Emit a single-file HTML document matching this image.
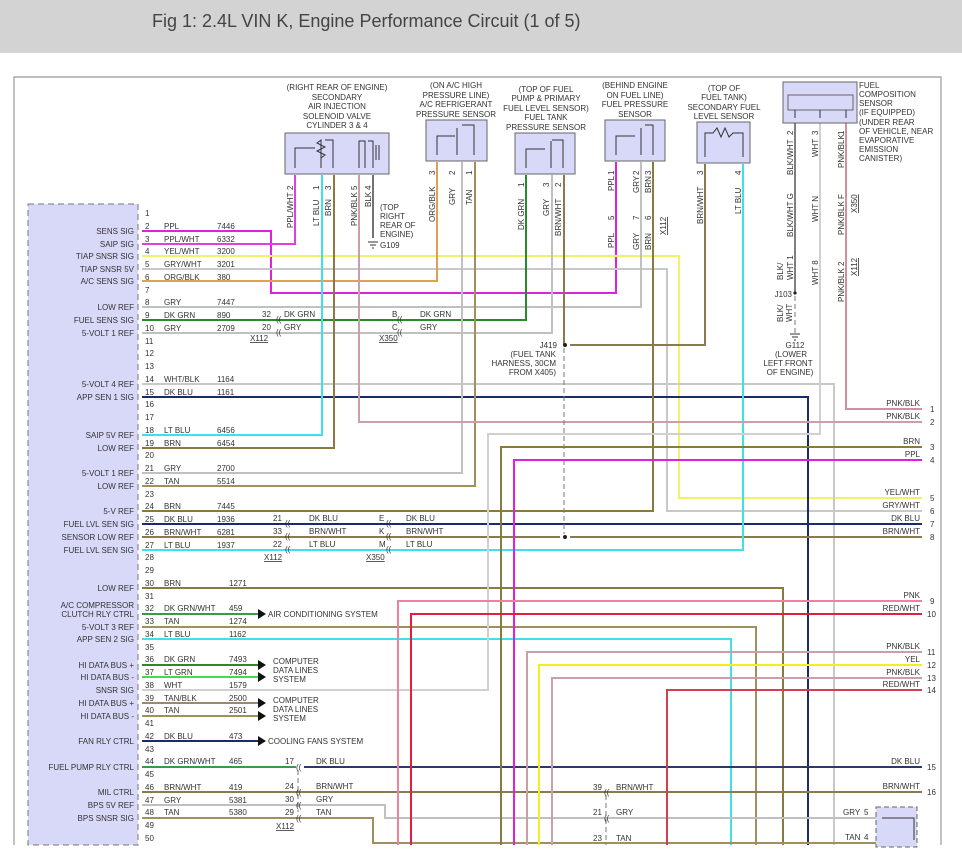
<!DOCTYPE html>
<html><head><meta charset="utf-8">
<style>
html,body{margin:0;padding:0;background:#fff;}
body{width:962px;height:860px;overflow:hidden;position:relative;}
#hdr{position:absolute;left:0;top:0;width:962px;height:53px;background:#d3d3d3;}
#hdr span{position:absolute;left:152px;top:11px;font:18px "Liberation Sans",sans-serif;color:#444;}
svg{position:absolute;left:0;top:0;}
text{font-family:"Liberation Sans",sans-serif;font-size:8px;fill:#333;}
</style></head><body>
<div id="hdr"><span>Fig 1: 2.4L VIN K, Engine Performance Circuit (1 of 5)</span></div>
<svg width="962" height="860" viewBox="0 0 962 860">
<path d="M14,845 V77 H941 V845" fill="none" stroke="#999" stroke-width="1.2"/>
<rect x="28" y="204" width="110" height="641" fill="#d8d8f8" stroke="#777" stroke-dasharray="6,4"/>
<g fill="none" stroke-width="2">
<path d="M142,231 H271 V293 H616 V162" stroke="#e020e0"/>
<path d="M142,244 H295 V175" stroke="#e040e0"/>
<path d="M142,256 H679 V498 H922" stroke="#f2f26a"/>
<path d="M142,269 H667 V511 H922" stroke="#c8c8c8"/>
<path d="M142,281 H437 V162" stroke="#e0a050"/>
<path d="M142,307 H641 V162" stroke="#c0c0c0"/>
<path d="M142,320 H526 V175" stroke="#2a8a2a"/>
<path d="M142,333 H552 V175" stroke="#c0c0c0"/>
<path d="M142,384 H834 V845" stroke="#c8c8c8"/>
<path d="M142,397 H808 V845" stroke="#1a2a6a"/>
<path d="M142,435 H322 V175" stroke="#40e0e8"/>
<path d="M142,448 H334 V175" stroke="#8a7a40"/>
<path d="M142,473 H462 V162" stroke="#c0c0c0"/>
<path d="M142,486 H475 V162" stroke="#a09060"/>
<path d="M142,511 H653 V162" stroke="#8a7a40"/>
<path d="M142,524 H922" stroke="#1a2a6a"/>
<path d="M142,537 H560 M570,537 H922" stroke="#8a7a50"/>
<path d="M142,550 H743 V164" stroke="#40e0e8"/>
<path d="M142,588 H783 V845" stroke="#8a7a40"/>
<path d="M142,614 H258" stroke="#3a9a4a"/>
<path d="M142,627 H756 V845" stroke="#a09060"/>
<path d="M142,639 H731 V845" stroke="#40e0e8"/>
<path d="M142,665 H258" stroke="#2a8a2a"/>
<path d="M142,677 H258" stroke="#40e040"/>
<path d="M142,690 H488 V434 H820 V123" stroke="#d0d0d0"/>
<path d="M142,703 H258" stroke="#9a8a6a"/>
<path d="M142,716 H258" stroke="#a09060"/>
<path d="M142,741 H258" stroke="#1a2a6a"/>
<path d="M142,767 H296" stroke="#3a9a4a"/>
<path d="M304,767 H922" stroke="#2a3a6a"/>
<path d="M142,792 H922" stroke="#8a7a50"/>
<path d="M142,805 H385 V818 H878" stroke="#c0c0c0"/>
<path d="M142,818 H373 V843 H878" stroke="#a09060"/>
<path d="M359,175 V422 H922" stroke="#c8a0a8"/>
<path d="M373,175 V238" stroke="#444" stroke-width="1.5"/>
<path d="M564,175 V345" stroke="#8a7a50"/>
<path d="M570,345 H705 V164" stroke="#8a7a50"/>
<path d="M795,123 V293" stroke="#555" stroke-width="1.5"/>
<path d="M846,123 V409 H922" stroke="#d090a0"/>
<path d="M922,447 H501 V845" stroke="#8a7a40"/>
<path d="M922,460 H514 V845" stroke="#e020e0"/>
<path d="M922,601 H398 V845" stroke="#f080a0"/>
<path d="M922,614 H411 V845" stroke="#e02040"/>
<path d="M922,652 H527 V845" stroke="#c8a0a8"/>
<path d="M922,665 H539 V845" stroke="#f0f020"/>
<path d="M922,678 H552 V845" stroke="#c8a0a8"/>
<path d="M922,690 H667 V845" stroke="#d04050"/>
</g>
<g fill="none" stroke="#777" stroke-width="1" stroke-dasharray="5,3">
<path d="M564,348 V534"/><path d="M795,296 V333"/><path d="M298,770 V812"/><path d="M606,795 V845"/>
</g>
<circle cx="565" cy="345" r="2" fill="#222"/><circle cx="565" cy="537" r="2" fill="#222"/><circle cx="795" cy="293" r="1.6" fill="#222"/>
<g fill="#111">
<path d="M258,609 l8,5 l-8,5z"/><path d="M258,660 l8,5 l-8,5z"/><path d="M258,672 l8,5 l-8,5z"/>
<path d="M258,698 l8,5 l-8,5z"/><path d="M258,711 l8,5 l-8,5z"/><path d="M258,736 l8,5 l-8,5z"/>
</g>
<text x="268" y="617">AIR CONDITIONING SYSTEM</text>
<text x="273" y="664">COMPUTER</text><text x="273" y="673">DATA LINES</text><text x="273" y="682">SYSTEM</text>
<text x="273" y="703">COMPUTER</text><text x="273" y="712">DATA LINES</text><text x="273" y="721">SYSTEM</text>
<text x="268" y="744">COOLING FANS SYSTEM</text>
<g fill="#d8d8f8" stroke="#666" stroke-width="1">
<rect x="285" y="133" width="104" height="41"/>
<rect x="426" y="120" width="61" height="41"/>
<rect x="515" y="133" width="60" height="41"/>
<rect x="605" y="120" width="60" height="41"/>
<rect x="697" y="122" width="53" height="41"/>
<rect x="783" y="82" width="74" height="41"/>
<rect x="788" y="95" width="65" height="15"/>
<rect x="876" y="807" width="41" height="40" stroke-dasharray="5,3"/>
</g>
<g fill="none" stroke="#333" stroke-width="1">
<path d="M295,168 V148 H315 M321,168 V140 L317,143 L325,147 L317,151 L325,155 L321,158 V168 M333,168 V140 H325"/>
<path d="M359,168 V141 H365 V168 M373,168 V141 H368 M376,145 V160 M379,145 V160"/>
<path d="M437,155 V136 H455 M457,155 V128 M474,155 V125 H462"/>
<path d="M526,168 V149 H545 M551,168 V141 M563,168 V140 H552"/>
<path d="M616,155 V136 H635 M641,155 V128 M653,155 V125 H645"/>
<path d="M705,157 V133 H713 L717,128 L721,137 L725,128 L729,137 L733,133 H743 V157"/>
<path d="M795,110 V118 M820,110 V118 M846,110 V118"/>
<path d="M882,818 H914 V840"/>
</g>
<g text-anchor="middle">
<text x="337" y="90">(RIGHT REAR OF ENGINE)</text><text x="337" y="100">SECONDARY</text><text x="337" y="109">AIR INJECTION</text><text x="337" y="119">SOLENOID VALVE</text><text x="337" y="128">CYLINDER 3 &amp; 4</text>
<text x="456" y="88">(ON A/C HIGH</text><text x="456" y="98">PRESSURE LINE)</text><text x="456" y="107">A/C REFRIGERANT</text><text x="456" y="117">PRESSURE SENSOR</text>
<text x="546" y="92">(TOP OF FUEL</text><text x="546" y="101">PUMP &amp; PRIMARY</text><text x="546" y="111">FUEL LEVEL SENSOR)</text><text x="546" y="120">FUEL TANK</text><text x="546" y="130">PRESSURE SENSOR</text>
<text x="635" y="88">(BEHIND ENGINE</text><text x="635" y="98">ON FUEL LINE)</text><text x="635" y="107">FUEL PRESSURE</text><text x="635" y="117">SENSOR</text>
<text x="724" y="91">(TOP OF</text><text x="724" y="100">FUEL TANK)</text><text x="724" y="110">SECONDARY FUEL</text><text x="724" y="119">LEVEL SENSOR</text>
</g>
<text x="859" y="88">FUEL</text><text x="859" y="97">COMPOSITION</text><text x="859" y="106">SENSOR</text><text x="859" y="115">(IF EQUIPPED)</text><text x="859" y="125">(UNDER REAR</text><text x="859" y="134">OF VEHICLE, NEAR</text><text x="859" y="143">EVAPORATIVE</text><text x="859" y="152">EMISSION</text><text x="859" y="161">CANISTER)</text>
<text x="380" y="210">(TOP</text><text x="380" y="219">RIGHT</text><text x="380" y="228">REAR OF</text><text x="380" y="237">ENGINE)</text><text x="380" y="248">G109</text>
<path d="M368,242 H378 M370,245 H376 M372,248 H374" stroke="#333"/>
<text x="795" y="348" text-anchor="middle">G112</text><text x="791" y="357" text-anchor="middle">(LOWER</text><text x="788" y="366" text-anchor="middle">LEFT FRONT</text><text x="790" y="375" text-anchor="middle">OF ENGINE)</text>
<path d="M790,334 H800 M792,337 H798 M794,340 H796" stroke="#333"/>
<text x="792" y="297" text-anchor="end">J103</text>
<text x="557" y="348" text-anchor="end">J419</text><text x="556" y="357" text-anchor="end">(FUEL TANK</text><text x="556" y="366" text-anchor="end">HARNESS, 30CM</text><text x="556" y="375" text-anchor="end">FROM X405)</text>
<g>
<text transform="translate(293,228) rotate(-90)">PPL/WHT</text><text transform="translate(293,190) rotate(-90)">2</text>
<text transform="translate(319,226) rotate(-90)">LT BLU</text><text transform="translate(319,190) rotate(-90)">1</text>
<text transform="translate(331,216) rotate(-90)">BRN</text><text transform="translate(331,190) rotate(-90)">3</text>
<text transform="translate(357,226) rotate(-90)">PNK/BLK</text><text transform="translate(357,190) rotate(-90)">5</text>
<text transform="translate(371,207) rotate(-90)">BLK</text><text transform="translate(371,190) rotate(-90)">4</text>
<text transform="translate(435,222) rotate(-90)">ORG/BLK</text><text transform="translate(435,175) rotate(-90)">3</text>
<text transform="translate(455,205) rotate(-90)">GRY</text><text transform="translate(455,175) rotate(-90)">2</text>
<text transform="translate(472,205) rotate(-90)">TAN</text><text transform="translate(472,175) rotate(-90)">1</text>
<text transform="translate(524,230) rotate(-90)">DK GRN</text><text transform="translate(524,187) rotate(-90)">1</text>
<text transform="translate(549,216) rotate(-90)">GRY</text><text transform="translate(549,187) rotate(-90)">3</text>
<text transform="translate(561,236) rotate(-90)">BRN/WHT</text><text transform="translate(561,187) rotate(-90)">2</text>
<text transform="translate(614,191) rotate(-90)">PPL</text><text transform="translate(614,175) rotate(-90)">1</text>
<text transform="translate(639,193) rotate(-90)">GRY</text><text transform="translate(639,175) rotate(-90)">2</text>
<text transform="translate(651,193) rotate(-90)">BRN</text><text transform="translate(651,175) rotate(-90)">3</text>
<text transform="translate(614,248) rotate(-90)">PPL</text><text transform="translate(614,220) rotate(-90)">5</text>
<text transform="translate(639,250) rotate(-90)">GRY</text><text transform="translate(639,220) rotate(-90)">7</text>
<text transform="translate(651,250) rotate(-90)">BRN</text><text transform="translate(651,220) rotate(-90)">6</text>
<text transform="translate(666,235) rotate(-90)" text-decoration="underline">X112</text>
<text transform="translate(703,224) rotate(-90)">BRN/WHT</text><text transform="translate(703,175) rotate(-90)">3</text>
<text transform="translate(741,214) rotate(-90)">LT BLU</text><text transform="translate(741,175) rotate(-90)">4</text>
<text transform="translate(793,175) rotate(-90)">BLK/WHT</text><text transform="translate(793,135) rotate(-90)">2</text>
<text transform="translate(818,157) rotate(-90)">WHT</text><text transform="translate(818,135) rotate(-90)">3</text>
<text transform="translate(844,168) rotate(-90)">PNK/BLK</text><text transform="translate(844,135) rotate(-90)">1</text>
<text transform="translate(793,237) rotate(-90)">BLK/WHT G</text>
<text transform="translate(818,222) rotate(-90)">WHT N</text>
<text transform="translate(844,235) rotate(-90)">PNK/BLK F</text>
<text transform="translate(857,213) rotate(-90)" text-decoration="underline">X350</text>
<text transform="translate(783,280) rotate(-90)">BLK/</text>
<text transform="translate(793,280) rotate(-90)">WHT 1</text>
<text transform="translate(783,322) rotate(-90)">BLK/</text>
<text transform="translate(792,322) rotate(-90)">WHT</text>
<text transform="translate(818,285) rotate(-90)">WHT 8</text>
<text transform="translate(844,302) rotate(-90)">PNK/BLK 2</text>
<text transform="translate(857,276) rotate(-90)" text-decoration="underline">X112</text>
</g>
<g font-size="8">
<text x="262" y="317">32</text><text x="276" y="322">((</text><text x="284" y="317">DK GRN</text>
<text x="262" y="330">20</text><text x="276" y="335">((</text><text x="284" y="330">GRY</text>
<text x="250" y="341" text-decoration="underline">X112</text>
<text x="392" y="317">B</text><text x="397" y="322">((</text><text x="420" y="317">DK GRN</text>
<text x="392" y="330">C</text><text x="397" y="335">((</text><text x="420" y="330">GRY</text>
<text x="379" y="341" text-decoration="underline">X350</text>
<text x="273" y="521">21</text><text x="285" y="526">((</text><text x="309" y="521">DK BLU</text>
<text x="273" y="534">33</text><text x="285" y="539">((</text><text x="309" y="534">BRN/WHT</text>
<text x="273" y="547">22</text><text x="285" y="552">((</text><text x="309" y="547">LT BLU</text>
<text x="264" y="560" text-decoration="underline">X112</text>
<text x="379" y="521">E</text><text x="386" y="526">((</text><text x="406" y="521">DK BLU</text>
<text x="379" y="534">K</text><text x="386" y="539">((</text><text x="406" y="534">BRN/WHT</text>
<text x="379" y="547">M</text><text x="386" y="552">((</text><text x="406" y="547">LT BLU</text>
<text x="366" y="560" text-decoration="underline">X350</text>
<text x="285" y="764">17</text><text x="296" y="770">((</text><text x="316" y="764">DK BLU</text>
<text x="285" y="789">24</text><text x="296" y="795">((</text><text x="316" y="789">BRN/WHT</text>
<text x="285" y="802">30</text><text x="296" y="808">((</text><text x="316" y="802">GRY</text>
<text x="285" y="815">29</text><text x="296" y="821">((</text><text x="316" y="815">TAN</text>
<text x="276" y="829" text-decoration="underline">X112</text>
<text x="593" y="790">39</text><text x="604" y="795">((</text><text x="616" y="790">BRN/WHT</text>
<text x="593" y="815">21</text><text x="604" y="821">((</text><text x="616" y="815">GRY</text>
<text x="593" y="841">23</text><text x="616" y="841">TAN</text>
<text x="843" y="815">GRY</text><text x="864" y="815">5</text>
<text x="845" y="840">TAN</text><text x="864" y="840">4</text>
</g>
<g text-anchor="end">
<text x="920" y="406">PNK/BLK</text><text x="920" y="419">PNK/BLK</text><text x="920" y="444">BRN</text><text x="920" y="457">PPL</text>
<text x="920" y="495">YEL/WHT</text><text x="920" y="508">GRY/WHT</text><text x="920" y="521">DK BLU</text><text x="920" y="534">BRN/WHT</text>
<text x="920" y="598">PNK</text><text x="920" y="611">RED/WHT</text><text x="920" y="649">PNK/BLK</text><text x="920" y="662">YEL</text>
<text x="920" y="675">PNK/BLK</text><text x="920" y="687">RED/WHT</text><text x="920" y="764">DK BLU</text><text x="920" y="789">BRN/WHT</text>
</g>
<g>
<text x="930" y="412">1</text><text x="930" y="425">2</text><text x="930" y="450">3</text><text x="930" y="463">4</text>
<text x="930" y="501">5</text><text x="930" y="514">6</text><text x="930" y="527">7</text><text x="930" y="540">8</text>
<text x="930" y="604">9</text><text x="927" y="617">10</text><text x="927" y="655">11</text><text x="927" y="668">12</text>
<text x="927" y="681">13</text><text x="927" y="693">14</text><text x="927" y="770">15</text><text x="927" y="795">16</text>
</g>
<g text-anchor="end" font-size="8">
<text x="134" y="234">SENS SIG</text><text x="134" y="247">SAIP SIG</text><text x="134" y="259">TIAP SNSR SIG</text>
<text x="134" y="272">TIAP SNSR 5V</text><text x="134" y="284">A/C SENS SIG</text><text x="134" y="310">LOW REF</text>
<text x="134" y="323">FUEL SENS SIG</text><text x="134" y="336">5-VOLT 1 REF</text><text x="134" y="387">5-VOLT 4 REF</text>
<text x="134" y="400">APP SEN 1 SIG</text><text x="134" y="438">SAIP 5V REF</text><text x="134" y="451">LOW REF</text>
<text x="134" y="476">5-VOLT 1 REF</text><text x="134" y="489">LOW REF</text><text x="134" y="514">5-V REF</text>
<text x="134" y="527">FUEL LVL SEN SIG</text><text x="134" y="540">SENSOR LOW REF</text><text x="134" y="553">FUEL LVL SEN SIG</text>
<text x="134" y="591">LOW REF</text><text x="134" y="608">A/C COMPRESSOR</text><text x="134" y="617">CLUTCH RLY CTRL</text>
<text x="134" y="630">5-VOLT 3 REF</text><text x="134" y="642">APP SEN 2 SIG</text><text x="134" y="668">HI DATA BUS +</text>
<text x="134" y="680">HI DATA BUS -</text><text x="134" y="693">SNSR SIG</text><text x="134" y="706">HI DATA BUS +</text>
<text x="134" y="719">HI DATA BUS -</text><text x="134" y="744">FAN RLY CTRL</text><text x="134" y="770">FUEL PUMP RLY CTRL</text>
<text x="134" y="795">MIL CTRL</text><text x="134" y="808">BPS 5V REF</text><text x="134" y="821">BPS SNSR SIG</text>
</g>
<g font-size="7.5">
<text x="145" y="216">1</text><text x="145" y="229">2</text><text x="145" y="242">3</text><text x="145" y="254">4</text><text x="145" y="267">5</text>
<text x="145" y="280">6</text><text x="145" y="293">7</text><text x="145" y="305">8</text><text x="145" y="318">9</text><text x="145" y="331">10</text>
<text x="145" y="344">11</text><text x="145" y="356">12</text><text x="145" y="369">13</text><text x="145" y="382">14</text><text x="145" y="395">15</text>
<text x="145" y="407">16</text><text x="145" y="420">17</text><text x="145" y="433">18</text><text x="145" y="446">19</text><text x="145" y="458">20</text>
<text x="145" y="471">21</text><text x="145" y="484">22</text><text x="145" y="497">23</text><text x="145" y="509">24</text><text x="145" y="522">25</text>
<text x="145" y="535">26</text><text x="145" y="548">27</text><text x="145" y="560">28</text><text x="145" y="573">29</text><text x="145" y="586">30</text>
<text x="145" y="599">31</text><text x="145" y="611">32</text><text x="145" y="624">33</text><text x="145" y="637">34</text><text x="145" y="650">35</text>
<text x="145" y="662">36</text><text x="145" y="675">37</text><text x="145" y="688">38</text><text x="145" y="701">39</text><text x="145" y="713">40</text>
<text x="145" y="726">41</text><text x="145" y="739">42</text><text x="145" y="752">43</text><text x="145" y="764">44</text><text x="145" y="777">45</text>
<text x="145" y="790">46</text><text x="145" y="803">47</text><text x="145" y="815">48</text><text x="145" y="828">49</text><text x="145" y="841">50</text>
</g>
<g>
<text x="164" y="229">PPL</text><text x="217" y="229">7446</text>
<text x="164" y="242">PPL/WHT</text><text x="217" y="242">6332</text>
<text x="164" y="254">YEL/WHT</text><text x="217" y="254">3200</text>
<text x="164" y="267">GRY/WHT</text><text x="217" y="267">3201</text>
<text x="164" y="280">ORG/BLK</text><text x="217" y="280">380</text>
<text x="164" y="305">GRY</text><text x="217" y="305">7447</text>
<text x="164" y="318">DK GRN</text><text x="217" y="318">890</text>
<text x="164" y="331">GRY</text><text x="217" y="331">2709</text>
<text x="164" y="382">WHT/BLK</text><text x="217" y="382">1164</text>
<text x="164" y="395">DK BLU</text><text x="217" y="395">1161</text>
<text x="164" y="433">LT BLU</text><text x="217" y="433">6456</text>
<text x="164" y="446">BRN</text><text x="217" y="446">6454</text>
<text x="164" y="471">GRY</text><text x="217" y="471">2700</text>
<text x="164" y="484">TAN</text><text x="217" y="484">5514</text>
<text x="164" y="509">BRN</text><text x="217" y="509">7445</text>
<text x="164" y="522">DK BLU</text><text x="217" y="522">1936</text>
<text x="164" y="535">BRN/WHT</text><text x="217" y="535">6281</text>
<text x="164" y="548">LT BLU</text><text x="217" y="548">1937</text>
<text x="164" y="586">BRN</text><text x="229" y="586">1271</text>
<text x="164" y="611">DK GRN/WHT</text><text x="229" y="611">459</text>
<text x="164" y="624">TAN</text><text x="229" y="624">1274</text>
<text x="164" y="637">LT BLU</text><text x="229" y="637">1162</text>
<text x="164" y="662">DK GRN</text><text x="229" y="662">7493</text>
<text x="164" y="675">LT GRN</text><text x="229" y="675">7494</text>
<text x="164" y="688">WHT</text><text x="229" y="688">1579</text>
<text x="164" y="701">TAN/BLK</text><text x="229" y="701">2500</text>
<text x="164" y="713">TAN</text><text x="229" y="713">2501</text>
<text x="164" y="739">DK BLU</text><text x="229" y="739">473</text>
<text x="164" y="764">DK GRN/WHT</text><text x="229" y="764">465</text>
<text x="164" y="790">BRN/WHT</text><text x="229" y="790">419</text>
<text x="164" y="803">GRY</text><text x="229" y="803">5381</text>
<text x="164" y="815">TAN</text><text x="229" y="815">5380</text>
</g>
</svg>
</body></html>
